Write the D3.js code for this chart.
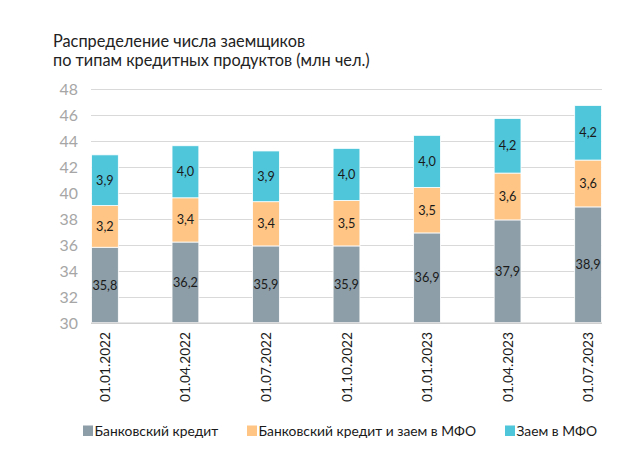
<!DOCTYPE html>
<html><head><meta charset="utf-8">
<script src="https://cdn.jsdelivr.net/npm/d3@7"></script>
<style>
html,body{margin:0;padding:0;background:#fff;}
svg{display:block;font-family:Lato,"Noto Sans",sans-serif;}
</style></head>
<body><svg id="c" width="641" height="470"></svg>
<script>
const titleLines = ["Распределение числа заемщиков", "по типам кредитных продуктов (млн чел.)"];
const categories = ["01.01.2022","01.04.2022","01.07.2022","01.10.2022","01.01.2023","01.04.2023","01.07.2023"];
const seriesNames = ["Банковский кредит","Банковский кредит и заем в МФО","Заем в МФО"];
const bankCredit = [35.8,36.2,35.9,35.9,36.9,37.9,38.9];
const bankAndMfo = [3.2,3.4,3.4,3.5,3.5,3.6,3.6];
const mfoLoan = [3.9,4.0,3.9,4.0,4.0,4.2,4.2];
const yTicks = [30,32,34,36,38,40,42,44,46,48];
const colors = ["#8d9ea8","#fec584","#4fc6da"];
const FONT = "Lato, 'Noto Sans', sans-serif";

const svg = d3.select("#c");

// measure helper: font size so that sample text has target width
function fitSize(sample, target){
  const t = svg.append("text").attr("font-family",FONT).attr("font-size",100).text(sample);
  const w = t.node().getComputedTextLength();
  t.remove();
  return 100*target/w;
}
const titleSize = fitSize(titleLines[1], 317);
const legendSizes = [fitSize(seriesNames[0],124), fitSize(seriesNames[1],219), fitSize(seriesNames[2],80)];
const legendSize = (legendSizes[0]+legendSizes[1]+legendSizes[2])/3;
const tickSize = fitSize("48", 18.4);
const xLabSize = fitSize("01.01.2022", 70);
const valSize = fitSize("35,8", 25);

const x = d3.scaleBand().domain(categories).range([91.5,601.5]).paddingInner(1-26.8/80.5).paddingOuter(0).align(0);
const y = d3.scaleLinear().domain([30,48]).range([322.7,88.5]);

// title
svg.append("g").selectAll("text").data(titleLines).join("text")
  .attr("x",53).attr("y",(d,i)=>47+i*18.5)
  .attr("font-size",titleSize).attr("fill","#222")
  .text(d=>d);

// gridlines
svg.append("g").selectAll("line").data(yTicks.filter(t=>t>30)).join("line")
  .attr("x1",91).attr("x2",602).attr("y1",d=>Math.round(y(d))+0.5).attr("y2",d=>Math.round(y(d))+0.5)
  .attr("stroke","#d9d9d9").attr("stroke-width",1.2);

// y axis labels
const yAxis = d3.axisLeft(y).tickValues(yTicks).tickSize(0).tickPadding(0).tickFormat(d3.format("d"));
const ya = svg.append("g").attr("transform","translate(78,0)").call(yAxis);
ya.select(".domain").remove();
ya.selectAll("text").attr("font-size",tickSize).attr("fill","#a6a6a6").attr("font-family",FONT).attr("dy","0.36em");

// stacked
const seriesArrays = [bankCredit, bankAndMfo, mfoLoan];
const data = categories.map((c,i)=>({cat:c, i, s0:bankCredit[i]-30, s1:bankAndMfo[i], s2:mfoLoan[i]}));
const stacked = d3.stack().keys(["s0","s1","s2"])(data);
stacked.forEach(s=>s.forEach(p=>{p[0]+=30;p[1]+=30;}));

const gBars = svg.append("g");
stacked.forEach((s,k)=>{
  const g = gBars.append("g");
  g.selectAll("rect").data(s).join("rect")
    .attr("x",d=>x(d.data.cat)).attr("width",x.bandwidth())
    .attr("y",d=>y(d[1])).attr("height",d=>y(d[0])-y(d[1]))
    .attr("fill",colors[k]).attr("stroke","#fff").attr("stroke-width",0.8);
  g.selectAll("text").data(s).join("text")
    .attr("x",d=>x(d.data.cat)+x.bandwidth()/2).attr("y",d=>(y(d[0])+y(d[1]))/2)
    .attr("dy","0.36em").attr("text-anchor","middle")
    .attr("font-size",valSize).attr("fill","#1a1a1a")
    .text(d=>d3.format(".1f")(seriesArrays[k][d.data.i]).replace(".",","));
});

// baseline
svg.append("line").attr("x1",91).attr("x2",602).attr("y1",y(30)+0.5).attr("y2",y(30)+0.5)
  .attr("stroke","#d0d0d0").attr("stroke-width",1.5);

// x labels
svg.append("g").selectAll("text").data(categories).join("text")
  .attr("transform",d=>`translate(${x(d)+x.bandwidth()/2+5},332) rotate(-90)`)
  .attr("text-anchor","end").attr("font-size",xLabSize).attr("fill","#1a1a1a")
  .text(d=>d);

// legend
const legX = [83,247,505];
const lg = svg.append("g").selectAll("g").data(seriesNames).join("g")
  .attr("transform",(d,i)=>`translate(${legX[i]},425.5)`);
lg.append("rect").attr("width",10).attr("height",10.5).attr("fill",(d,i)=>colors[i]);
lg.append("text").attr("x",11.5).attr("y",5.5).attr("dy","0.36em").attr("font-size",legendSize).attr("fill","#1a1a1a").text(d=>d);
</script></body></html>
